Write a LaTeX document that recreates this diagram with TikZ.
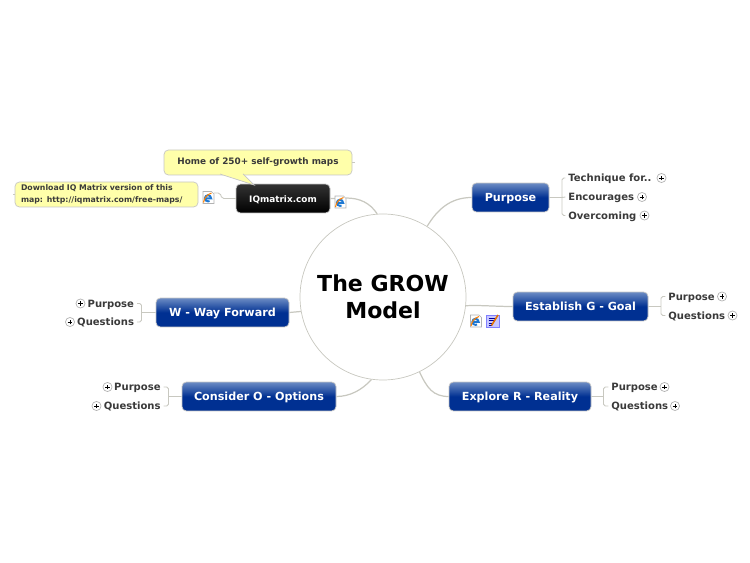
\documentclass[tikz,border=0pt]{standalone}
\usepackage{fontspec}
\setmainfont{DejaVu Sans}
\definecolor{linegray}{HTML}{C8C8C0}
\definecolor{boxblue}{HTML}{003092}
\definecolor{boxtop}{HTML}{6C8CC4}
\definecolor{notefill}{HTML}{FFFFAA}
\definecolor{textgray}{HTML}{3A3A3A}
\definecolor{iconblue}{HTML}{1E78D2}
\tikzset{
  topic/.style={rectangle, rounded corners=2.5pt, draw=gray!45, minimum height=16.5pt, inner sep=0pt, text height=5.5pt, text depth=0.5pt,
    top color=boxtop, bottom color=boxblue, middle color=boxblue, text=white, font=\bfseries\fontsize{6.35}{8}\selectfont},
  blacktopic/.style={topic, top color=gray!40!black, middle color=black, bottom color=black},
  subtopic/.style={anchor=west, inner sep=1.5pt, text height=4.3pt, text depth=0pt, text=textgray, font=\bfseries\fontsize{5.72}{7.5}\selectfont},
  subleft/.style={subtopic, anchor=east},
  branch/.style={draw=linegray, line width=0.7pt},
  fork/.style={draw=linegray, line width=0.5pt, rounded corners=1pt},
  plusmark/.style={circle, draw=gray!60, fill=white, minimum size=5.2pt, inner sep=0pt,
    path picture={\draw[black, line width=0.55pt]
      ([xshift=-1.4pt]path picture bounding box.center) -- ([xshift=1.4pt]path picture bounding box.center)
      ([yshift=-1.4pt]path picture bounding box.center) -- ([yshift=1.4pt]path picture bounding box.center);}},
  note/.style={rectangle, draw=gray!45, fill=notefill, rounded corners=2.5pt, inner sep=0pt,
    text=textgray, font=\bfseries\fontsize{4.43}{6.8}\selectfont},
  pagepic/.pic={
    \draw[gray!60, fill=white, line width=0.3pt] (-5.5,-6) -- (3,-6) -- (5.5,-3.5) -- (5.5,6) -- (-5.5,6) -- cycle;
    \draw[iconblue, line width=1.1pt] (-3.3,0.8) -- (2.6,0.8) arc[start angle=0, end angle=-300, radius=3.1];
    \draw[orange, line width=0.6pt] (-5,5) to[bend left=30] (3,-4.5);
  },
  notepic/.pic={
    \draw[blue!50, fill=blue!22, line width=0.3pt] (-6.5,-6) rectangle (6.5,6.5);
    \draw[blue!60!black, line width=0.35pt] (-4.5,-3) -- (1.5,-3) (-4.5,-0.5) -- (1,-0.5) (-4.5,2) -- (0,2) (-4.5,4.5) -- (-1,4.5);
    \draw[orange!90!black, line width=0.9pt] (-1.5,4.5) -- (5,-6);
  }
}
\begin{document}
\begin{tikzpicture}[x=0.02cm, y=-0.02cm]
  \useasboundingbox (0,0) rectangle (750,563);

  \node[circle, draw=linegray, fill=white, minimum size=166*0.02cm, inner sep=0pt, align=center,
    font=\bfseries\fontsize{12.55}{15.5}\selectfont, text=black] (centre) at (383,297) {The GROW\\Model};

  \node[blacktopic, minimum width=94*0.02cm] (iqmatrix) at (283,198.5) {\fontsize{5.06}{7}\selectfont IQmatrix.com};
  \node[topic, minimum width=77*0.02cm] (purpose) at (510.5,197.5) {Purpose};
  \node[topic, minimum width=135*0.02cm] (goal) at (580.5,306.5) {Establish G - Goal};
  \node[topic, minimum width=142*0.02cm] (reality) at (520,396.5) {Explore R - Reality};
  \node[topic, minimum width=154*0.02cm] (options) at (259,396.5) {Consider O - Options};
  \node[topic, minimum width=133*0.02cm] (forward) at (222.5,312.5) {W - Way Forward};

  \coordinate (hometip) at (254,185);
  \coordinate (tailleft) at (220,174);
  \coordinate (tailright) at (243,174);
  \node[note, minimum width=188*0.02cm, minimum height=25*0.02cm] (home) at (258,162.5) {\fontsize{5.05}{7}\selectfont Home of 250+ self-growth maps};
  \node[note, minimum width=183*0.02cm, minimum height=25*0.02cm, align=left, text width=171*0.02cm] (download) at (106.5,194.5) {Download IQ Matrix version of this\\map: http://iqmatrix.com/free-maps/};
  \fill[notefill] (tailleft) -- (hometip) -- (tailright) -- cycle;
  \draw[gray!45, line width=0.4pt] (tailleft) -- (hometip) -- (tailright);

  \coordinate (homestub) at (355,162.5);
  \coordinate (downloadstub) at (13,194.5);
  \coordinate (iqicon) at (340.5,202);
  \coordinate (downicon) at (208.5,197.5);
  \coordinate (goalicon) at (476,321);
  \coordinate (goalnote) at (493,321);

  \draw[fork] (home.east) -- (homestub);
  \draw[fork] (download.west) -- (downloadstub);

  \draw[branch] (iqmatrix.east) -- (335,198.5) (346,198) .. controls (360,198) and (370,203) .. (centre.94);
  \draw[fork] (iqmatrix.west) -- (222,198.5) -- (220,193) -- (214,193);
  \draw[branch] (centre.58) .. controls (437,210) and (450,197.5) .. (purpose.west);
  \draw[branch] (centre.-6) .. controls (480,305) and (495,306.5) .. (goal.west);
  \draw[branch] (centre.-64) .. controls (427,388) and (433,396.5) .. (reality.west);
  \draw[branch] (centre.-98) .. controls (362,390) and (350,396.5) .. (options.east);
  \draw[branch] (centre.-170) -- (forward.east);

  \pic at (iqicon) {pagepic};
  \pic at (downicon) {pagepic};
  \pic at (goalicon) {pagepic};
  \pic at (goalnote) {notepic};

  \node[subtopic] (technique) at (565.4,178) {Technique for..};
  \node[subtopic] (encourages) at (565.4,197) {Encourages};
  \node[subtopic] (overcoming) at (565.4,215.5) {Overcoming};
  \node[subtopic] (goalpurpose) at (665.4,296.5) {Purpose};
  \node[subtopic] (goalquestions) at (665.4,315.5) {Questions};
  \node[subtopic] (realpurpose) at (608.4,387) {Purpose};
  \node[subtopic] (realquestions) at (608.4,406) {Questions};
  \node[subleft] (optpurpose) at (163.6,387) {Purpose};
  \node[subleft] (optquestions) at (163.6,406) {Questions};
  \node[subleft] (fwdpurpose) at (137,303.5) {Purpose};
  \node[subleft] (fwdquestions) at (137,322) {Questions};

  \draw[fork] (purpose.east) -- (562,197.5) (technique.west) -| (562,197.5) (overcoming.west) -| (562,197.5) (encourages.west) -- (562,197.5);
  \draw[fork] (goal.east) -- (661,306.5) (goalpurpose.west) -| (661,306.5) (goalquestions.west) -| (661,306.5);
  \draw[fork] (reality.east) -- (603.5,396.5) (realpurpose.west) -| (603.5,396.5) (realquestions.west) -| (603.5,396.5);
  \draw[fork] (options.west) -- (168.5,396.5) (optpurpose.east) -| (168.5,396.5) (optquestions.east) -| (168.5,396.5);
  \draw[fork] (forward.west) -- (141.5,312.5) (fwdpurpose.east) -| (141.5,312.5) (fwdquestions.east) -| (141.5,312.5);

  \node[plusmark] (plustechnique) at (661.5,178) {};
  \node[plusmark] (plusencourages) at (642,197) {};
  \node[plusmark] (plusovercoming) at (644.5,215.5) {};
  \node[plusmark] (plusgoalpurpose) at (722,296.5) {};
  \node[plusmark] (plusgoalquestions) at (732.5,315.5) {};
  \node[plusmark] (plusrealpurpose) at (664.5,387) {};
  \node[plusmark] (plusrealquestions) at (675,406) {};
  \node[plusmark] (plusoptpurpose) at (107.5,387) {};
  \node[plusmark] (plusoptquestions) at (96.5,406) {};
  \node[plusmark] (plusfwdpurpose) at (80.5,303.5) {};
  \node[plusmark] (plusfwdquestions) at (70,322) {};
\end{tikzpicture}
\end{document}
